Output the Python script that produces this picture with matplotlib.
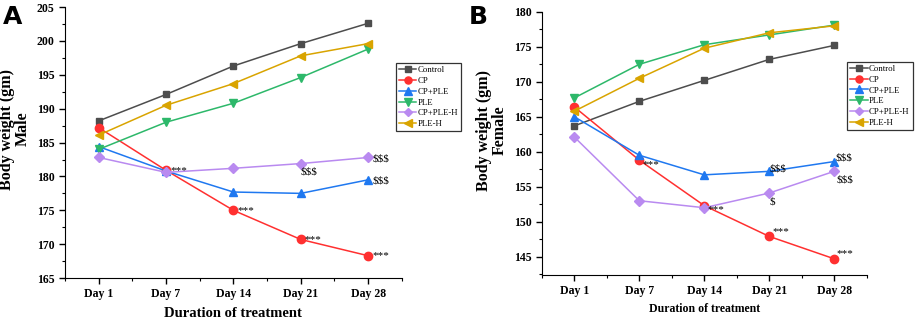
import matplotlib
matplotlib.use('Agg')
import matplotlib.pyplot as plt
from matplotlib.ticker import MultipleLocator

days = ['Day 1', 'Day 7', 'Day 14', 'Day 21', 'Day 28']
groups = ['Control', 'CP', 'CP+PLE', 'PLE', 'CP+PLE-H', 'PLE-H']

# Male body weight (gm)
male_control = [188.2, 192.1, 196.3, 199.6, 202.6]
male_cp = [187.2, 180.9, 175.0, 170.7, 168.3]
male_cp_ple = [184.4, 180.8, 177.7, 177.5, 179.5]
male_ple = [184.0, 188.0, 190.8, 194.6, 198.8]
male_cp_ple_h = [182.8, 180.6, 181.2, 181.9, 182.8]
male_ple_h = [186.1, 190.5, 193.7, 197.8, 199.6]

# Female body weight (gm)
female_control = [163.7, 167.2, 170.2, 173.2, 175.2]
female_cp = [166.4, 158.8, 152.3, 147.9, 144.7]
female_cp_ple = [165.0, 159.5, 156.7, 157.2, 158.6]
female_ple = [167.7, 172.5, 175.3, 176.7, 178.1]
female_cp_ple_h = [162.1, 153.0, 152.0, 154.1, 157.2]
female_ple_h = [165.8, 170.5, 174.8, 177.0, 178.0]

colors = ['#4d4d4d', '#ff3030', '#1f78f0', '#2db86a', '#b98af0', '#d9a400']
markers = ['s', 'o', '^', 'v', 'D', '<']
msizes = [5, 6, 6, 6, 5, 6]

plt.rcParams['font.family'] = ['Liberation Serif', 'DejaVu Serif']

fig = plt.figure(figsize=(9.2, 3.2), dpi=100)
axA = fig.add_axes([0.0707, 0.131, 0.366, 0.847])
axB = fig.add_axes([0.589, 0.141, 0.353, 0.822])


def draw(ax, series, ylim, ystep, ylabel, xlabel_size, xlabel_pad, leg_anchor):
    x = list(range(len(days)))
    for vals, name, c, m, ms in zip(series, groups, colors, markers, msizes):
        ax.plot(x, vals, color=c, marker=m, markersize=ms, lw=1.1, label=name)
    ax.set_xlim(-0.5, 4.5)
    ax.set_ylim(*ylim)
    ax.set_xticks(x)
    ax.set_xticklabels(days, fontweight='bold', fontsize=8.5)
    ax.xaxis.set_minor_locator(MultipleLocator(0.5))
    ax.yaxis.set_major_locator(MultipleLocator(ystep))
    ax.yaxis.set_minor_locator(MultipleLocator(ystep / 2))
    for lab in ax.get_yticklabels():
        lab.set_fontweight('bold')
        lab.set_fontsize(8.5)
    ax.tick_params(which='major', length=4, width=1)
    ax.tick_params(which='minor', length=2, width=0.8)
    for s in ['top', 'right']:
        ax.spines[s].set_visible(False)
    ax.set_xlabel('Duration of treatment', fontweight='bold', fontsize=xlabel_size,
                  labelpad=xlabel_pad)
    ax.set_ylabel(ylabel, fontweight='bold', fontsize=11.5, linespacing=1.0, y=0.55)
    leg = ax.legend(loc='upper left', bbox_to_anchor=leg_anchor, fontsize=6.3,
                    frameon=True, fancybox=False, edgecolor='black',
                    handlelength=2.0, handletextpad=0.15, labelspacing=0.3,
                    borderpad=0.35, borderaxespad=0, markerscale=0.85)
    leg.get_frame().set_linewidth(0.9)
    return x


x = draw(axA, [male_control, male_cp, male_cp_ple, male_ple, male_cp_ple_h, male_ple_h],
         (165, 205), 5, 'Body weight (gm)\nMale', 10.5, 5, (0.982, 0.793))
fs = 8
for i in [1, 2, 3, 4]:
    axA.annotate('***', (x[i], male_cp[i]), xytext=(3, -2), textcoords='offset points', fontsize=fs)
axA.annotate('$$$', (x[3], male_cp_ple_h[3]), xytext=(0, -8), textcoords='offset points', fontsize=fs)
axA.annotate('$$$', (x[4], male_cp_ple_h[4]), xytext=(3, -3), textcoords='offset points', fontsize=fs)
axA.annotate('$$$', (x[4], male_cp_ple[4]), xytext=(3, -3), textcoords='offset points', fontsize=fs)

x = draw(axB, [female_control, female_cp, female_cp_ple, female_ple, female_cp_ple_h, female_ple_h],
         (142.4, 180), 5, 'Body weight (gm)\nFemale', 8.5, 4, (0.94, 0.81))
axB.annotate('***', (x[1], female_cp[1]), xytext=(2, -5), textcoords='offset points', fontsize=fs)
axB.annotate('***', (x[2], female_cp[2]), xytext=(2, -5), textcoords='offset points', fontsize=fs)
axB.annotate('***', (x[3], female_cp[3]), xytext=(2, 2), textcoords='offset points', fontsize=fs)
axB.annotate('***', (x[4], female_cp[4]), xytext=(2, 2), textcoords='offset points', fontsize=fs)
axB.annotate('$$$', (x[3], female_cp_ple[3]), xytext=(0, 0), textcoords='offset points', fontsize=fs)
axB.annotate('$$$', (x[4], female_cp_ple[4]), xytext=(1, 1), textcoords='offset points', fontsize=fs)
axB.annotate('$', (x[3], female_cp_ple_h[3]), xytext=(0, -8), textcoords='offset points', fontsize=fs)
axB.annotate('$$$', (x[4], female_cp_ple_h[4]), xytext=(2, -8), textcoords='offset points', fontsize=fs)

fig.text(0.003, 0.985, 'A', fontsize=18, fontweight='bold', family='DejaVu Sans', va='top')
fig.text(0.51, 0.985, 'B', fontsize=18, fontweight='bold', family='DejaVu Sans', va='top')

fig.savefig('out.png', dpi=100)
